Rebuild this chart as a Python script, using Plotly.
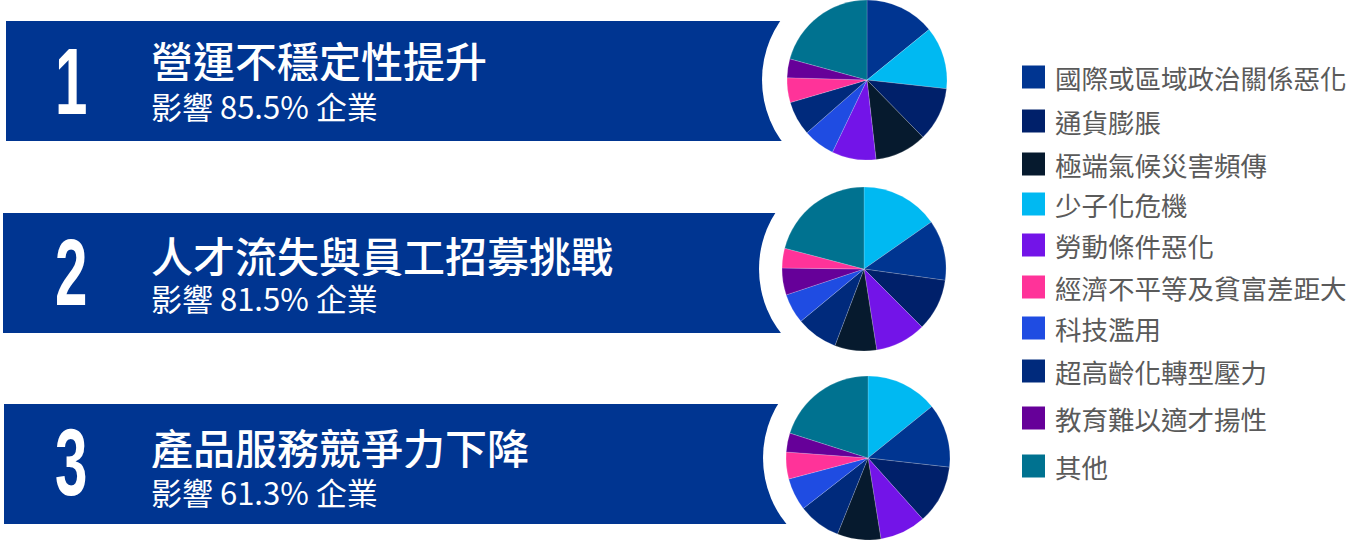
import plotly.graph_objects as go

W, H = 1359, 540

# legend order and colours
categories = [
    "國際或區域政治關係惡化", "通貨膨脹", "極端氣候災害頻傳", "少子化危機",
    "勞動條件惡化", "經濟不平等及貧富差距大", "科技濫用", "超高齡化轉型壓力",
    "教育難以適才揚性", "其他",
]
colors = [
    "#003591", "#00206a", "#061a2e", "#00b9f2",
    "#7314e8", "#ff3399", "#1f4ce2", "#002a7c",
    "#660099", "#007290",
]
color_map = dict(zip(categories, colors))

# banners
ranks = ["1", "2", "3"]
titles = ["營運不穩定性提升", "人才流失與員工招募挑戰", "產品服務競爭力下降"]
shares = ["85.5%", "81.5%", "61.3%"]

# slice order (clockwise from 12 o'clock) and values, per pie
pie1_labels = ["國際或區域政治關係惡化", "少子化危機", "通貨膨脹", "極端氣候災害頻傳",
               "勞動條件惡化", "科技濫用", "超高齡化轉型壓力", "經濟不平等及貧富差距大",
               "教育難以適才揚性", "其他"]
pie1_values = [14.1, 12.6, 10.9, 10.5, 8.9, 6.4, 6.9, 5.0, 3.8, 20.7]

pie2_labels = ["少子化危機", "國際或區域政治關係惡化", "通貨膨脹", "勞動條件惡化",
               "極端氣候災害頻傳", "超高齡化轉型壓力", "科技濫用", "教育難以適才揚性",
               "經濟不平等及貧富差距大", "其他"]
pie2_values = [15.3, 11.9, 10.3, 10.0, 8.25, 8.2, 5.9, 5.3, 3.9, 20.9]

pie3_labels = ["少子化危機", "國際或區域政治關係惡化", "通貨膨脹", "勞動條件惡化",
               "極端氣候災害頻傳", "超高齡化轉型壓力", "科技濫用", "經濟不平等及貧富差距大",
               "教育難以適才揚性", "其他"]
pie3_values = [14.2, 12.6, 11.6, 9.1, 8.6, 8.4, 6.4, 5.3, 3.75, 20.1]


def px_x(x):
    return x / W


def px_y(y):
    return 1 - y / H


BANNER = "#003591"
FONT_CJK = "Noto Sans CJK TC"

# geometry (pixels)
banner_top = [21, 213, 404]
banner_left = [6, 3, 4]
banner_h = 120
pie_cx = [867, 864, 868]
pie_cy = [80, 269, 458]
pie_r = [80, 82, 82]
ring_r = 105
title_y = [59, 254, 446]
sub_y = [105, 297, 491]
num_y = [81, 272, 462]

fig = go.Figure()

shapes = []
annotations = []
pies = [(pie1_labels, pie1_values), (pie2_labels, pie2_values), (pie3_labels, pie3_values)]

for i in range(3):
    shapes.append(dict(
        type="rect", xref="paper", yref="paper", layer="below",
        x0=px_x(banner_left[i]), x1=px_x(pie_cx[i]),
        y0=px_y(banner_top[i] + banner_h), y1=px_y(banner_top[i]),
        fillcolor=BANNER, line=dict(width=0),
    ))
    shapes.append(dict(
        type="circle", xref="paper", yref="paper", layer="below",
        x0=px_x(pie_cx[i] - ring_r), x1=px_x(pie_cx[i] + ring_r),
        y0=px_y(pie_cy[i] + ring_r), y1=px_y(pie_cy[i] - ring_r),
        fillcolor="white", line=dict(width=0),
    ))

    annotations.append(dict(
        x=px_x(71), y=px_y(num_y[i]), xref="paper", yref="paper",
        text=ranks[i], showarrow=False, xanchor="center", yanchor="middle",
        font=dict(family="Liberation Sans", size=94,
                  color="white", weight="bold"),
    ))
    annotations.append(dict(
        x=px_x(149), y=px_y(title_y[i]), xref="paper", yref="paper",
        text=titles[i], showarrow=False, xanchor="left", yanchor="middle",
        height=44,
        font=dict(family=FONT_CJK, size=42, color="white", weight=500),
    ))
    annotations.append(dict(
        x=px_x(149), y=px_y(sub_y[i]), xref="paper", yref="paper",
        text=f"影響 {shares[i]} 企業", showarrow=False, xanchor="left", yanchor="middle",
        height=34,
        font=dict(family=FONT_CJK, size=31, color="white", weight=400),
    ))

    labels, values = pies[i]
    fig.add_trace(go.Pie(
        labels=labels,
        values=values,
        sort=False,
        direction="clockwise",
        rotation=0,
        textinfo="none",
        hoverinfo="label+percent",
        marker=dict(colors=[color_map[l] for l in labels],
                    line=dict(color="rgba(255,255,255,0.35)", width=0.5)),
        domain=dict(
            x=[px_x(pie_cx[i] - pie_r[i]), px_x(pie_cx[i] + pie_r[i])],
            y=[px_y(pie_cy[i] + pie_r[i]), px_y(pie_cy[i] - pie_r[i])],
        ),
        showlegend=False,
    ))

# hand-built legend
legend_y = [77, 121, 164, 204, 245, 287, 328, 371, 418, 466]
sw = 23
for cat, col, y in zip(categories, colors, legend_y):
    shapes.append(dict(
        type="rect", xref="paper", yref="paper",
        x0=px_x(1022), x1=px_x(1022 + sw),
        y0=px_y(y + sw / 2), y1=px_y(y - sw / 2),
        fillcolor=col, line=dict(width=0),
    ))
    annotations.append(dict(
        x=px_x(1053), y=px_y(y), xref="paper", yref="paper",
        text=cat, showarrow=False, xanchor="left", yanchor="middle",
        font=dict(family=FONT_CJK, size=26.5, color="#5a5a5a"),
    ))

fig.update_layout(
    width=W,
    height=H,
    margin=dict(l=0, r=0, t=0, b=0),
    paper_bgcolor="white",
    plot_bgcolor="white",
    shapes=shapes,
    annotations=annotations,
)

# no body margin; squeeze the rank digits horizontally (no condensed font installed)
post_js = """
document.body.style.margin = '0';
var gd = document.getElementById('{plot_id}');
gd.querySelectorAll('.annotation-text').forEach(function (t) {
    if (['1', '2', '3'].indexOf(t.textContent) >= 0) {
        t.style.transformBox = 'fill-box';
        t.style.transformOrigin = 'center';
        t.style.transform = 'scaleX(0.62)';
    }
});
"""

fig.write_html(
    "out.html",
    config={"displayModeBar": False},
    post_script=post_js,
)
